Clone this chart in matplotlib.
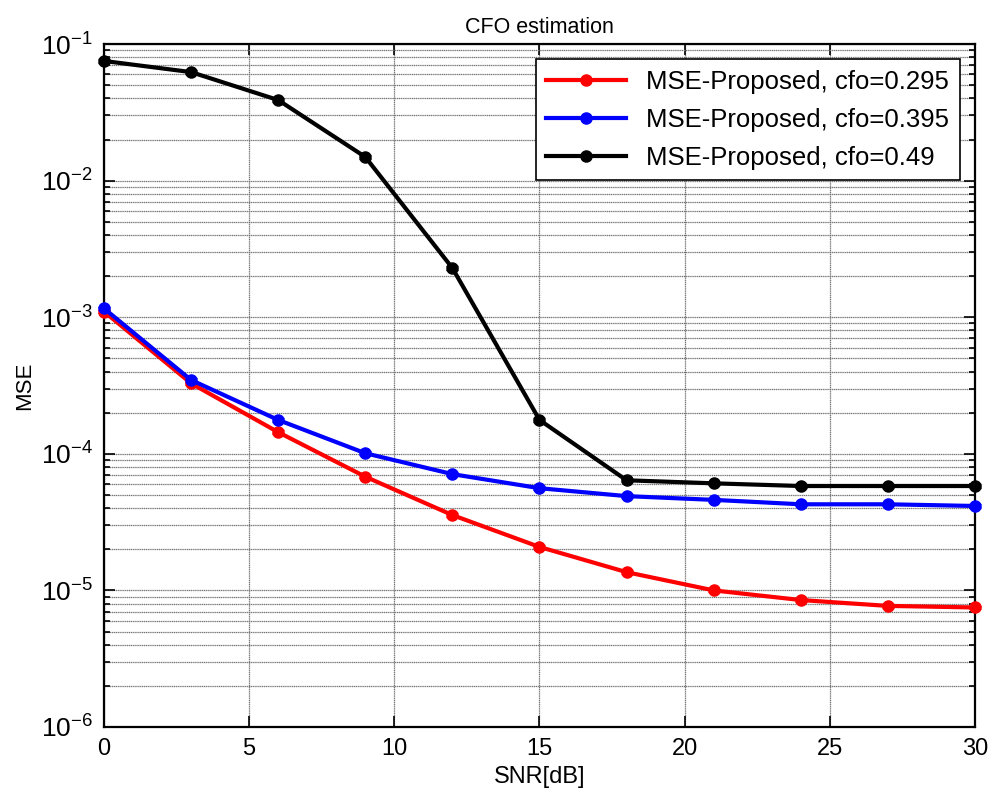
import numpy as np
import matplotlib
matplotlib.use('Agg')
import matplotlib.pyplot as plt
from matplotlib.ticker import LogLocator, NullFormatter

plt.rcParams['font.family'] = ['Liberation Sans', 'DejaVu Sans']
plt.rcParams['mathtext.fontset'] = 'custom'
plt.rcParams['mathtext.rm'] = 'Liberation Sans'
plt.rcParams['mathtext.it'] = 'Liberation Sans'
plt.rcParams['mathtext.default'] = 'regular'

# SNR points and MSE values
snr = [0, 3, 6, 9, 12, 15, 18, 21, 24, 27, 30]
mse_0295 = [1.10e-3, 3.28e-4, 1.44e-4, 6.8e-5, 3.56e-5, 2.08e-5, 1.36e-5, 1.0e-5, 8.5e-6, 7.7e-6, 7.5e-6]
mse_0395 = [1.16e-3, 3.47e-4, 1.77e-4, 1.01e-4, 7.1e-5, 5.6e-5, 4.9e-5, 4.6e-5, 4.27e-5, 4.27e-5, 4.15e-5]
mse_049 = [0.0752, 0.0623, 0.0389, 0.0149, 0.00229, 1.77e-4, 6.4e-5, 6.08e-5, 5.81e-5, 5.81e-5, 5.81e-5]

labels = ['MSE-Proposed, cfo=0.295', 'MSE-Proposed, cfo=0.395', 'MSE-Proposed, cfo=0.49']
colors = ['red', 'blue', 'black']

fig = plt.figure(figsize=(9.93, 8.05), dpi=100)
ax = fig.add_axes([0.1047, 0.0969, 0.8772, 0.8484])

for mse, lab, c in zip([mse_0295, mse_0395, mse_049], labels, colors):
    mse = np.array(mse)
    # small error bars like the original, kept out of the legend
    ax.errorbar(snr, mse, yerr=0.03 * mse, fmt='none', ecolor=c, capsize=4,
                elinewidth=1, clip_on=False, zorder=3)
    ax.plot(snr, mse, color=c, linewidth=3, marker='o', markersize=8,
            label=lab, clip_on=False, zorder=4)

ax.set_yscale('log')
ax.set_xlim(0, 30)
ax.set_ylim(1e-6, 1e-1)
ax.set_xticks([0, 5, 10, 15, 20, 25, 30])
ax.yaxis.set_major_locator(LogLocator(base=10, numticks=10))
ax.yaxis.set_minor_locator(LogLocator(base=10, subs=np.arange(2, 10), numticks=20))
ax.yaxis.set_minor_formatter(NullFormatter())

ax.grid(True, which='major', axis='both', color='0.45', linestyle=(0, (1, 0.5)), linewidth=0.9)
ax.grid(True, which='minor', axis='y', color='0.45', linestyle=(0, (1, 0.5)), linewidth=0.9)
ax.tick_params(which='both', direction='in', top=True, right=True, pad=8)
ax.tick_params(axis='x', labelsize=17)
ax.tick_params(axis='y', labelsize=19)
ax.tick_params(which='major', length=8, width=1.2)
ax.tick_params(which='minor', length=4, width=1.2)
for s in ax.spines.values():
    s.set_linewidth(1.6)

ax.set_title('CFO estimation', fontsize=15.5, pad=8)
ax.set_xlabel('SNR[dB]', fontsize=17)
ax.set_ylabel('MSE', fontsize=16)

leg = ax.legend(loc='upper right', fontsize=18.5, fancybox=False, framealpha=1,
                edgecolor='black', handlelength=3.1, borderaxespad=0.6, borderpad=0.4,
                labelspacing=0.55)
leg.get_frame().set_linewidth(1.2)

plt.savefig('out.png', dpi=100)
